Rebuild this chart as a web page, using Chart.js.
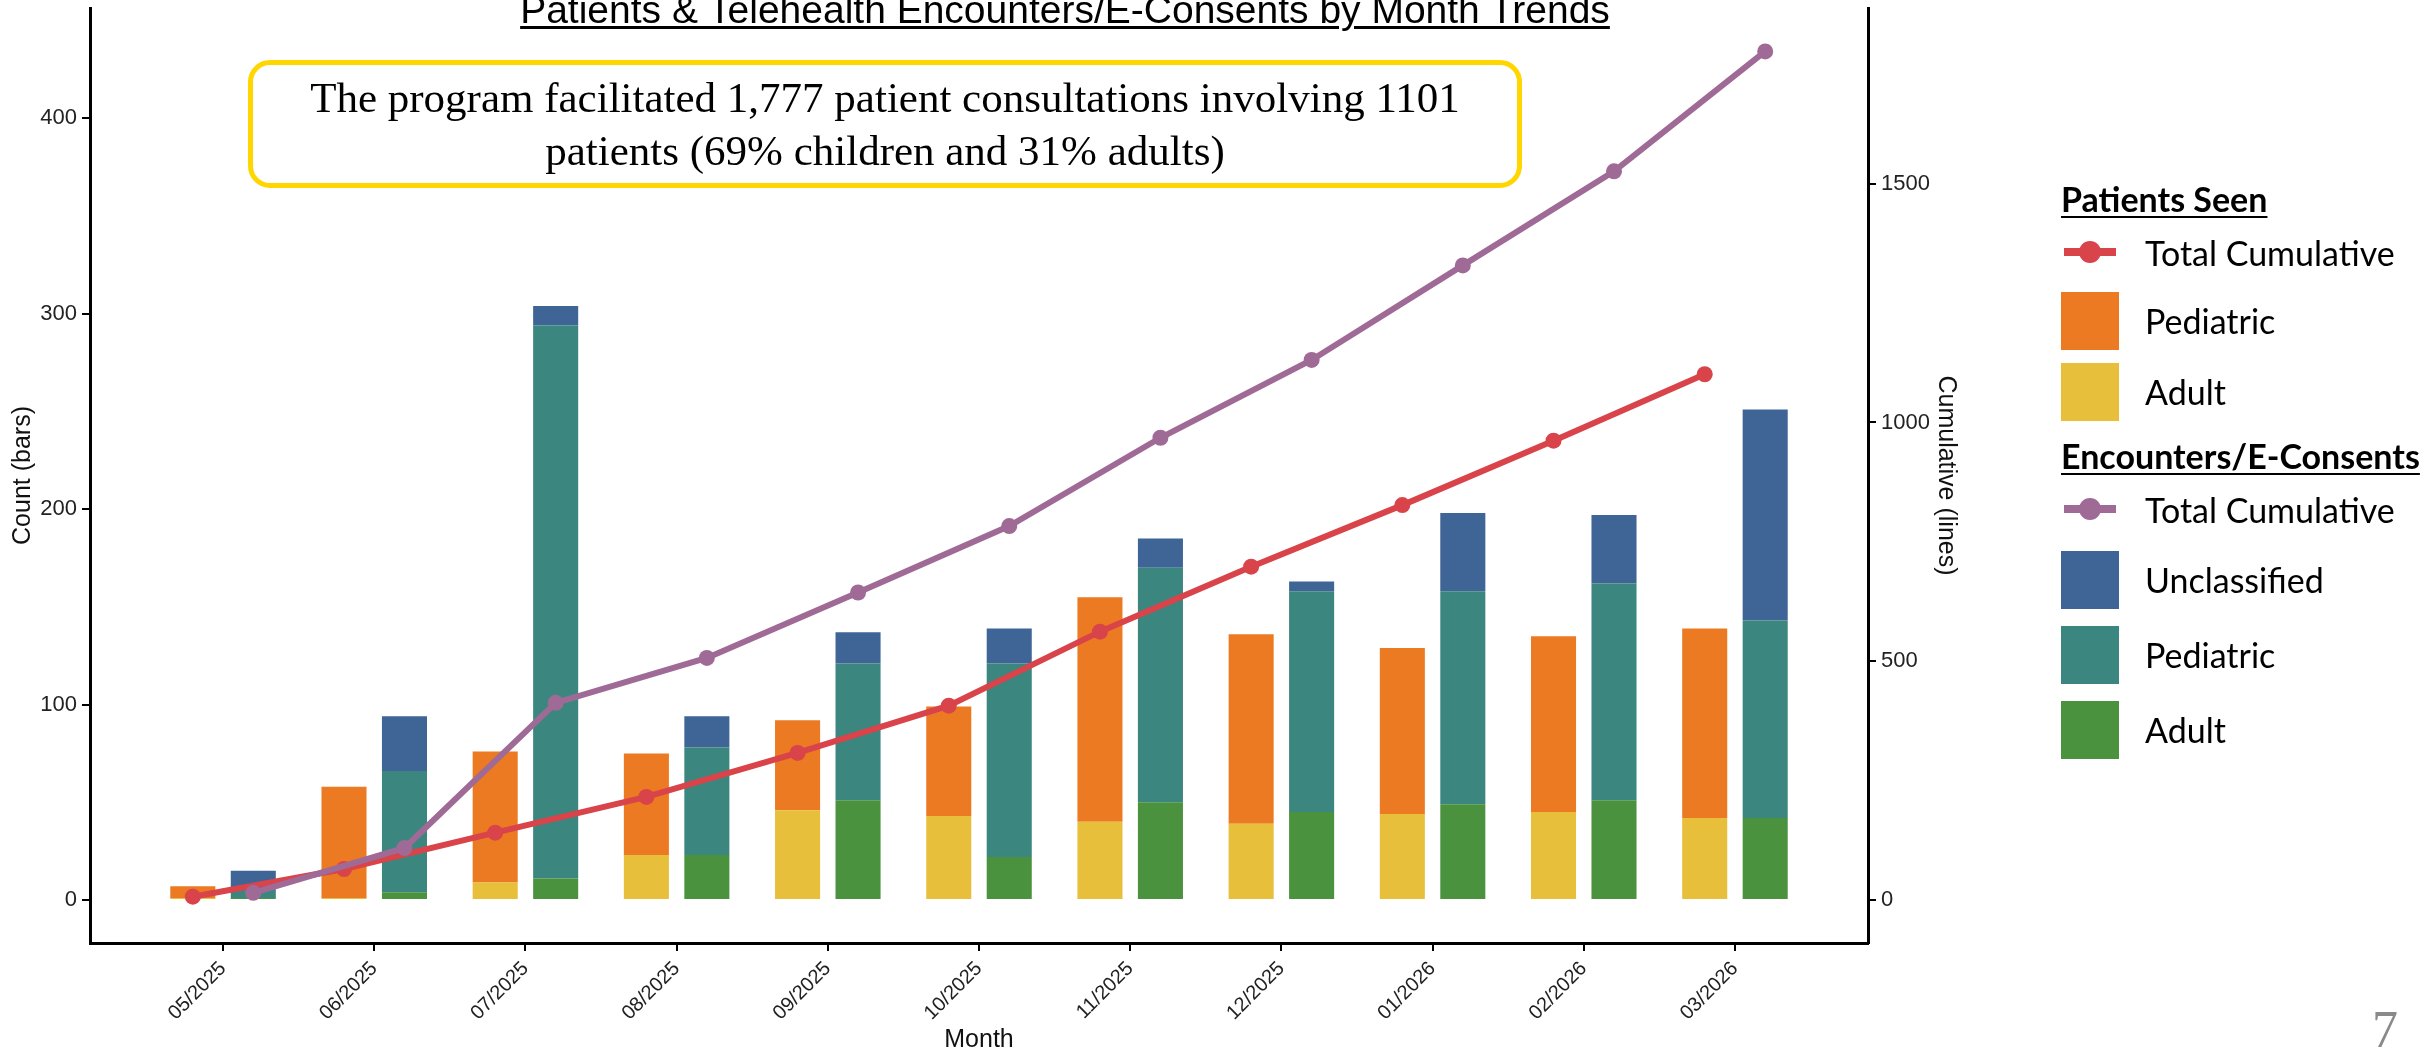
<!DOCTYPE html>
<html>
<head>
<meta charset="utf-8">
<script src="https://cdn.jsdelivr.net/npm/chart.js@4.4.1/dist/chart.umd.min.js"></script>
<style>
  body { margin: 0; background: #fff; }
  #wrap { position: relative; width: 2425px; height: 1053px; overflow: hidden; background: #fff; }
  #chart { position: absolute; left: 0; top: 0; }
  #title {
    position: absolute; left: 0; width: 2130px; top: -12px;
    text-align: center; line-height: 38px; color: #000;
    font: 39px "Liberation Sans", Arial, sans-serif;
    text-decoration: underline; text-decoration-thickness: 2.5px; text-underline-offset: 3px;
  }
  #note {
    position: absolute; left: 248px; top: 60px; width: 1274px; height: 128px;
    box-sizing: border-box; border: 5px solid #FFD600; border-radius: 22px;
    padding-top: 6px; text-align: center; color: #000;
    font: 43px "Liberation Serif", "Times New Roman", serif; line-height: 53px;
  }
  #legend { position: absolute; left: 2061px; top: 179px; font-family: Lato, "Open Sans", sans-serif; color: #000; }
  .lg-head { height: 40px; line-height: 40px; font-size: 34px; font-weight: bold; text-decoration: underline; text-decoration-thickness: 2px; text-underline-offset: 4px; white-space: nowrap; }
  .lg-row { display: flex; align-items: center; font-size: 34px; white-space: nowrap; }
  .lg-key { width: 58px; height: 58px; margin-right: 26px; position: relative; flex: none; }
  .lg-line { position: absolute; left: 3px; right: 3px; top: 25px; height: 8px; }
  .lg-dot { position: absolute; left: 18px; top: 18px; width: 22px; height: 22px; border-radius: 50%; }
  #page { position: absolute; right: 27px; top: 1000px; font: 52px "Liberation Serif", serif; color: #8a8a8a; }
</style>
</head>
<body>
<div id="wrap">
  <canvas id="chart" width="2425" height="1053"></canvas>
  <div id="title">Patients &amp; Telehealth Encounters/E-Consents by Month Trends</div>
  <div id="note">The program facilitated 1,777 patient consultations involving 1101<br>patients (69% children and 31% adults)</div>
  <div id="legend"></div>
  <div id="page">7</div>
</div>
<script>
// months on the x axis
const months = ['05/2025', '06/2025', '07/2025', '08/2025', '09/2025', '10/2025',
                '11/2025', '12/2025', '01/2026', '02/2026', '03/2026'];

// patients seen per month (bars, left axis)
const patientAdult     = [1, 1, 9, 23, 46, 43, 40, 39, 44, 45, 42];
const patientPediatric = [6, 57, 67, 52, 46, 56, 115, 97, 85, 90, 97];

// encounters / e-consents per month (bars, left axis)
const encounterAdult        = [1, 4, 11, 23, 51, 22, 50, 45, 49, 51, 42];
const encounterPediatric    = [5, 62, 283, 55, 70, 99, 120, 113, 109, 111, 101];
const encounterUnclassified = [9, 28, 10, 16, 16, 18, 15, 5, 40, 35, 108];

// cumulative totals (lines, right axis)
const patientCumulative   = [7, 65, 141, 216, 308, 407, 562, 698, 827, 962, 1101];
const encounterCumulative = [15, 109, 413, 507, 644, 783, 968, 1131, 1329, 1526, 1777];

// tick labels
const leftTicks  = [0, 100, 200, 300, 400];
const rightTicks = [0, 500, 1000, 1500];

const colors = {
  patientLine: '#D9434A',
  patientPed: '#EC7A23',
  patientAdult: '#E8BF3A',
  encLine: '#A06A96',
  encUnclass: '#3F6496',
  encPed: '#3C8680',
  encAdult: '#4A923E'
};

// patients sit left of each month tick, encounters right of it
const dodge = 0.2;
const atLeft  = (arr) => arr.map((v, i) => ({x: i - dodge, y: v}));
const atRight = (arr) => arr.map((v, i) => ({x: i + dodge, y: v}));

Chart.defaults.font.family = '"Liberation Sans", Arial, sans-serif';
Chart.defaults.color = '#222';

function barSet(label, group, data, color) {
  return {
    type: 'bar', label: label, group: group, data: data,
    backgroundColor: color, borderWidth: 0,
    barPercentage: 1, categoryPercentage: 0.745,
    xAxisID: 'x', yAxisID: 'y', order: 3
  };
}

function lineSet(label, group, data, color, order) {
  return {
    type: 'line', label: label, group: group, data: data,
    borderColor: color, backgroundColor: color, borderWidth: 6,
    pointRadius: 8, pointHoverRadius: 8, pointBorderWidth: 0,
    tension: 0, xAxisID: 'x', yAxisID: 'y2', order: order
  };
}

const datasets = [
  barSet('Adult', 'Patients Seen', atLeft(patientAdult), colors.patientAdult),
  barSet('Pediatric', 'Patients Seen', atLeft(patientPediatric), colors.patientPed),
  barSet('Adult', 'Encounters/E-Consents', atRight(encounterAdult), colors.encAdult),
  barSet('Pediatric', 'Encounters/E-Consents', atRight(encounterPediatric), colors.encPed),
  barSet('Unclassified', 'Encounters/E-Consents', atRight(encounterUnclassified), colors.encUnclass),
  lineSet('Total Cumulative', 'Patients Seen', atLeft(patientCumulative), colors.patientLine, 2),
  lineSet('Total Cumulative', 'Encounters/E-Consents', atRight(encounterCumulative), colors.encLine, 1)
];

const axisGrid = { display: true, drawOnChartArea: false, drawTicks: true, tickLength: 8, color: '#000', lineWidth: 2, offset: false };
const axisBorder = { display: true, color: '#000', width: 3 };

const chart = new Chart(document.getElementById('chart'), {
  type: 'bar',
  data: { datasets: datasets },
  options: {
    responsive: false,
    animation: false,
    devicePixelRatio: 1,
    layout: { padding: { left: 0, top: 7, right: 457, bottom: 0 } },
    plugins: { legend: { display: false }, tooltip: { enabled: false } },
    scales: {
      x: {
        type: 'linear', min: -0.88, max: 10.88, stacked: true, offset: false,
        afterBuildTicks: (axis) => { axis.ticks = months.map((m, i) => ({value: i})); },
        ticks: {
          callback: (v) => months[v], autoSkip: false,
          minRotation: 45, maxRotation: 45, padding: 6,
          color: '#222', font: { size: 20 }
        },
        grid: axisGrid,
        border: axisBorder,
        title: { display: true, text: 'Month', color: '#111', font: { size: 25, lineHeight: 1 }, padding: { top: 0, bottom: 0 } },
        afterFit: (axis) => { axis.height = 110; axis.paddingLeft = 0; axis.paddingRight = 0; }
      },
      y: {
        type: 'linear', position: 'left', stacked: true, min: -22, max: 456.5,
        afterBuildTicks: (axis) => { axis.ticks = leftTicks.map((v) => ({value: v})); },
        ticks: { padding: 5, color: '#222', font: { size: 22 }, callback: (v) => String(v) },
        grid: axisGrid,
        border: axisBorder,
        title: { display: true, text: 'Count (bars)', color: '#111', font: { size: 25 }, padding: { top: 8, bottom: 0 } },
        afterFit: (axis) => { axis.width = 90; axis.paddingTop = 0; axis.paddingBottom = 0; }
      },
      y2: {
        type: 'linear', position: 'right', min: -90, max: 1868,
        afterBuildTicks: (axis) => { axis.ticks = rightTicks.map((v) => ({value: v})); },
        ticks: { padding: 5, color: '#222', font: { size: 22 }, callback: (v) => String(v) },
        grid: axisGrid,
        border: axisBorder,
        title: { display: true, text: 'Cumulative (lines)', color: '#111', font: { size: 25 }, padding: { top: 7, bottom: 0 } },
        afterFit: (axis) => { axis.width = 100; axis.paddingTop = 0; axis.paddingBottom = 0; }
      }
    }
  }
});

// legend: one block per group, line first then the bars from top of stack down
const legend = document.getElementById('legend');
['Patients Seen', 'Encounters/E-Consents'].forEach((group, gi) => {
  const head = document.createElement('div');
  head.className = 'lg-head';
  if (gi > 0) head.style.marginTop = '9px';
  head.textContent = group;
  legend.appendChild(head);

  const items = chart.data.datasets.filter((d) => d.group === group);
  const ordered = items.filter((d) => d.type === 'line').concat(items.filter((d) => d.type === 'bar').reverse());
  ordered.forEach((d) => {
    const row = document.createElement('div');
    row.className = 'lg-row';
    row.style.height = d.type === 'line' ? '66px' : (gi === 0 ? '71px' : '75px');
    const key = document.createElement('div');
    key.className = 'lg-key';
    if (d.type === 'line') {
      const ln = document.createElement('div');
      ln.className = 'lg-line';
      ln.style.background = d.borderColor;
      const dot = document.createElement('div');
      dot.className = 'lg-dot';
      dot.style.background = d.borderColor;
      key.appendChild(ln);
      key.appendChild(dot);
    } else {
      key.style.background = d.backgroundColor;
    }
    row.appendChild(key);
    row.appendChild(document.createTextNode(d.label));
    legend.appendChild(row);
  });
});
</script>
</body>
</html>
